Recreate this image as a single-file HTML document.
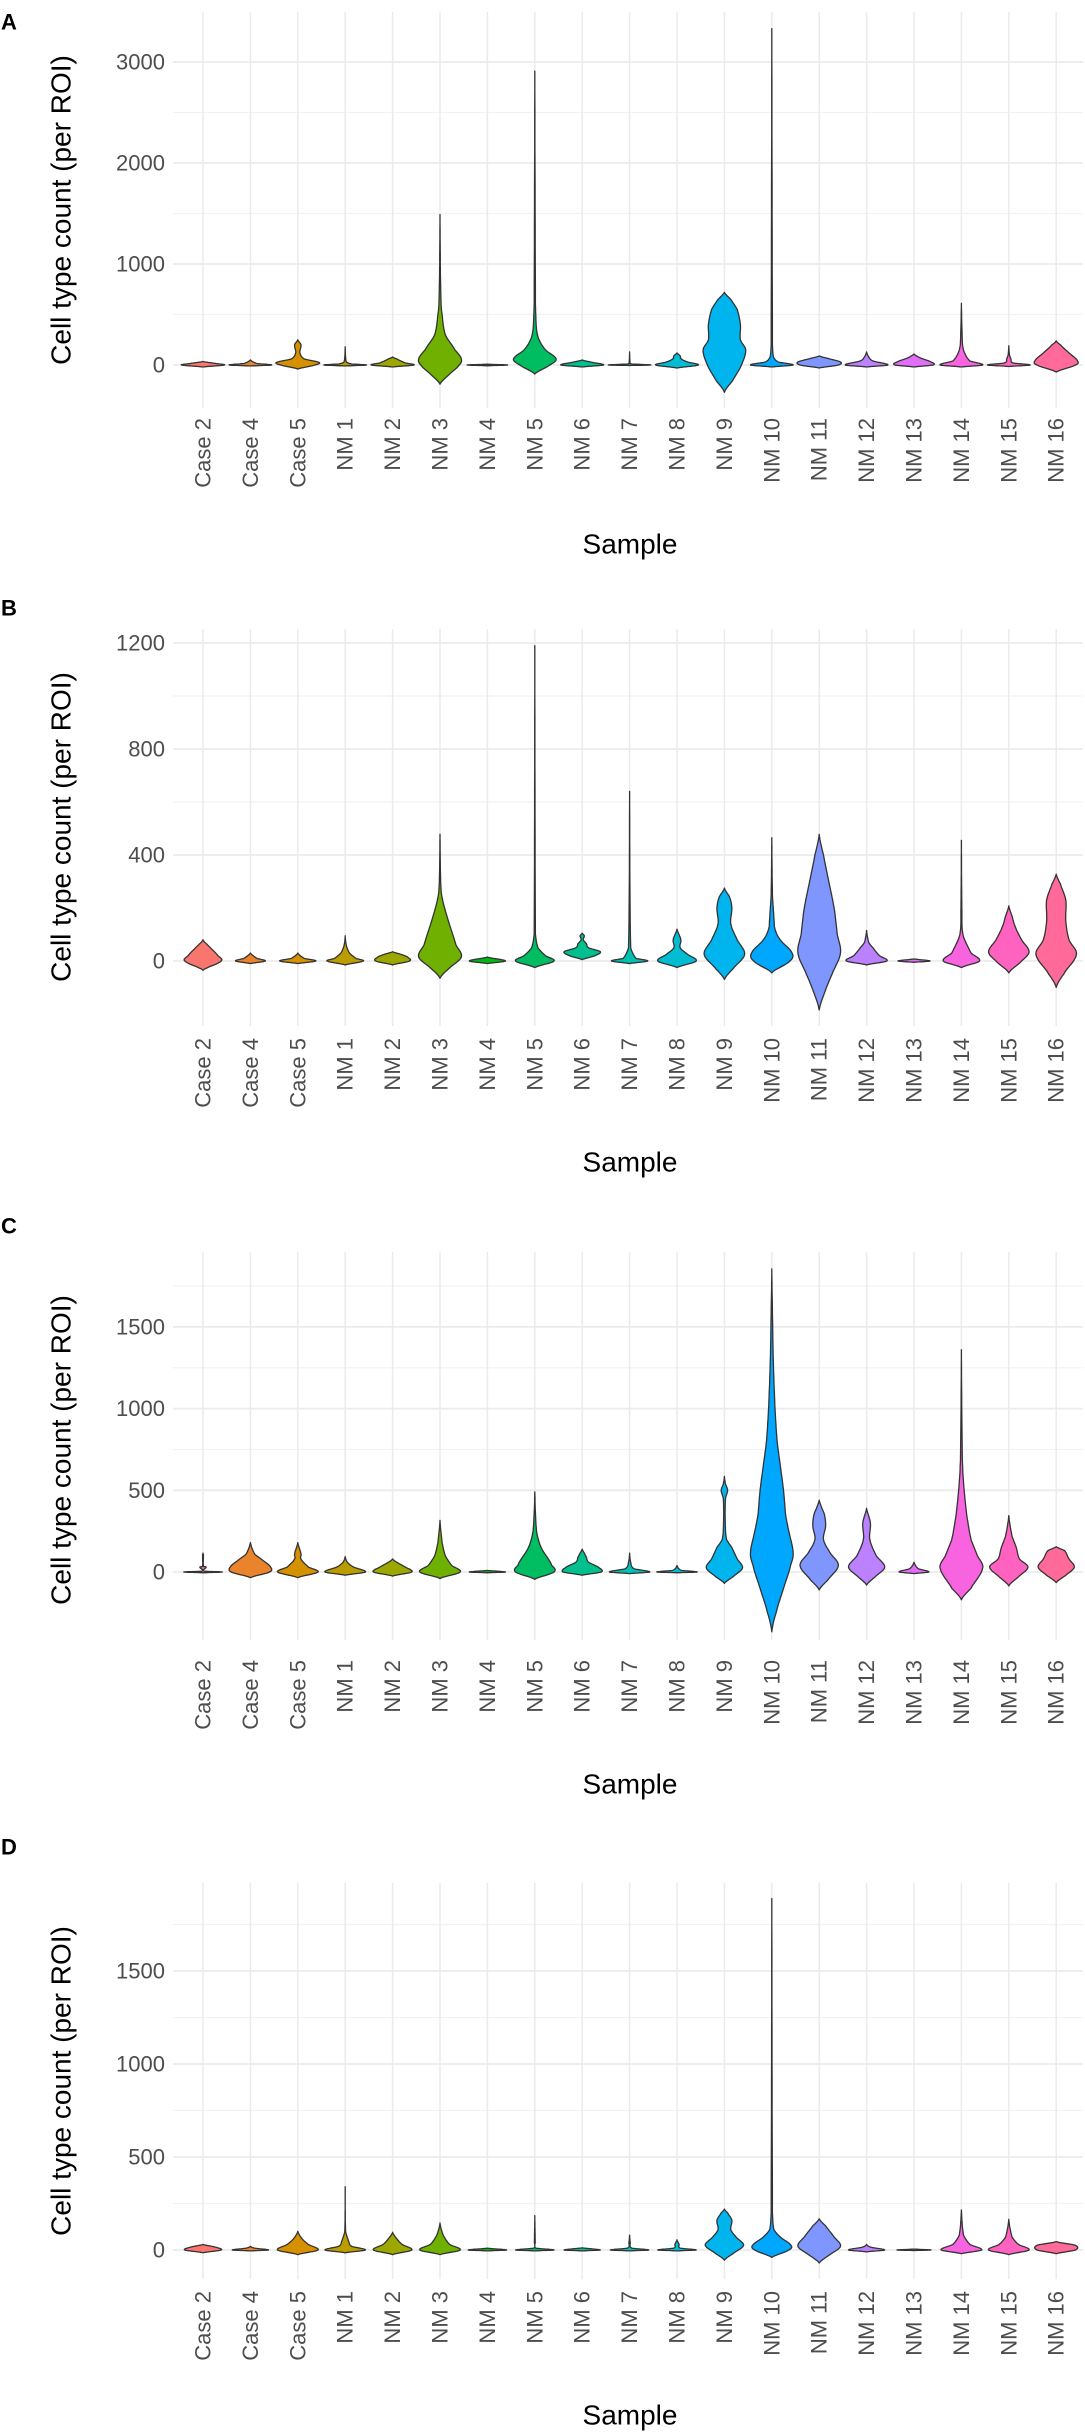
<!DOCTYPE html>
<html><head><meta charset="utf-8"><title>Cell type counts violin plots</title>
<style>
html,body{margin:0;padding:0;background:#fff;}
svg{display:block;font-family:"Liberation Sans",sans-serif;}
</style></head>
<body>
<svg id="fig" width="1085" height="2433" viewBox="0 0 1085 2433" xmlns="http://www.w3.org/2000/svg"></svg>
<script>
const categories = ["Case 2","Case 4","Case 5","NM 1","NM 2","NM 3","NM 4","NM 5","NM 6","NM 7","NM 8","NM 9","NM 10","NM 11","NM 12","NM 13","NM 14","NM 15","NM 16"];

const ticksA = [0,1000,2000,3000];
const ticksB = [0,400,800,1200];
const ticksC = [0,500,1000,1500];
const ticksD = [0,500,1000,1500];

// violin profiles: [value, relative half-width]
const violinsA = [
 [[-20,0],[0,1],[15,0.6],[35,0]],
 [[-10,0],[0,1],[15,0.3],[50,0]],
 [[-40,0],[0,0.8],[25,1],[60,0.3],[120,0.1],[200,0.15],[250,0]],
 [[-10,0],[0,1],[10,0.3],[30,0.05],[180,0]],
 [[-20,0],[0,1],[20,0.6],[60,0.2],[80,0]],
 [[-190,0],[-100,0.4],[0,0.9],[60,1],[150,0.7],[300,0.25],[500,0.1],[600,0.05],[900,0.02],[1490,0]],
 [[-8,0],[0,0.95],[8,0]],
 [[-90,0],[0,0.7],[60,1],[150,0.5],[250,0.2],[350,0.08],[600,0.03],[2910,0]],
 [[-20,0],[0,1],[25,0.5],[50,0]],
 [[-5,0],[0,1],[10,0.1],[30,0.02],[130,0]],
 [[-30,0],[0,1],[30,0.5],[60,0.2],[90,0.15],[120,0]],
 [[-270,0],[-150,0.4],[0,0.8],[150,1],[250,0.75],[400,0.75],[550,0.6],[650,0.3],[720,0]],
 [[-20,0],[0,1],[30,0.3],[80,0.08],[200,0.03],[3330,0]],
 [[-30,0],[0,0.9],[30,1],[60,0.5],[90,0]],
 [[-20,0],[0,1],[40,0.3],[80,0.1],[130,0]],
 [[-20,0],[0,0.9],[30,0.8],[70,0.3],[110,0]],
 [[-20,0],[0,1],[40,0.4],[120,0.15],[200,0.05],[610,0]],
 [[-15,0],[0,1],[20,0.2],[60,0.1],[100,0.03],[190,0]],
 [[-70,0],[0,0.9],[40,1],[120,0.6],[200,0.2],[240,0]]
];
const violinsB = [
 [[-35,0],[0,0.85],[20,0.7],[50,0.35],[80,0]],
 [[-10,0],[0,0.7],[10,0.3],[30,0]],
 [[-10,0],[0,0.85],[10,0.3],[30,0]],
 [[-15,0],[0,0.85],[10,0.5],[30,0.2],[60,0.05],[95,0]],
 [[-15,0],[0,0.8],[15,0.7],[25,0.4],[35,0]],
 [[-65,0],[-30,0.4],[15,1],[60,0.75],[150,0.4],[240,0.1],[300,0.03],[478,0]],
 [[-10,0],[0,0.85],[15,0]],
 [[-25,0],[0,0.9],[20,0.5],[50,0.15],[100,0.03],[1190,0]],
 [[5,0],[20,0.6],[35,0.85],[50,0.3],[65,0.2],[80,0.05],[95,0.1],[105,0]],
 [[-10,0],[0,0.85],[10,0.3],[50,0.05],[640,0]],
 [[-25,0],[0,0.9],[25,0.5],[50,0.15],[80,0.18],[120,0]],
 [[-70,0],[-30,0.4],[25,0.95],[80,0.6],[140,0.3],[200,0.35],[240,0.25],[275,0]],
 [[-45,0],[0,0.85],[30,0.95],[80,0.4],[120,0.15],[160,0.1],[250,0.03],[465,0]],
 [[-185,0],[-120,0.25],[-50,0.6],[30,1],[100,0.85],[200,0.7],[300,0.45],[400,0.2],[478,0]],
 [[-15,0],[0,0.95],[20,0.6],[50,0.3],[70,0.1],[115,0]],
 [[-5,0],[0,0.75],[8,0]],
 [[-25,0],[0,0.85],[30,0.45],[100,0.07],[200,0.02],[455,0]],
 [[-45,0],[0,0.6],[35,0.95],[80,0.6],[130,0.3],[170,0.15],[208,0]],
 [[-100,0],[-50,0.35],[25,0.95],[80,0.6],[150,0.45],[230,0.45],[290,0.2],[328,0]]
];
const violinsC = [
 [[-5,0],[0,0.9],[5,0.05],[30,0.15],[35,0.02],[105,0.02],[115,0]],
 [[-35,0],[0,0.9],[30,0.95],[70,0.6],[110,0.2],[180,0]],
 [[-35,0],[0,0.95],[30,0.5],[80,0.15],[110,0.15],[180,0]],
 [[-20,0],[0,0.95],[30,0.4],[60,0.1],[95,0]],
 [[-25,0],[0,0.9],[30,0.6],[60,0.2],[80,0]],
 [[-40,0],[0,0.95],[40,0.55],[100,0.25],[180,0.1],[316,0]],
 [[-5,0],[0,0.85],[10,0]],
 [[-45,0],[0,0.9],[40,0.8],[150,0.3],[250,0.08],[490,0]],
 [[-20,0],[0,0.9],[30,0.75],[60,0.3],[90,0.2],[110,0.12],[140,0]],
 [[-10,0],[0,0.95],[20,0.2],[60,0.05],[115,0]],
 [[-5,0],[0,0.95],[10,0.2],[40,0]],
 [[-70,0],[-30,0.4],[25,0.85],[80,0.6],[150,0.35],[200,0.1],[300,0.04],[450,0.05],[500,0.15],[540,0.05],[585,0]],
 [[-366,0],[-250,0.2],[-100,0.55],[50,0.9],[120,1],[250,0.8],[350,0.65],[500,0.55],[650,0.4],[800,0.25],[1000,0.15],[1300,0.07],[1500,0.04],[1855,0]],
 [[-110,0],[-50,0.4],[40,0.9],[120,0.5],[200,0.2],[280,0.3],[350,0.25],[400,0.1],[440,0]],
 [[-80,0],[-30,0.4],[30,0.85],[100,0.45],[200,0.15],[300,0.18],[390,0]],
 [[-10,0],[0,0.7],[20,0.2],[60,0]],
 [[-170,0],[-100,0.45],[25,1],[100,0.75],[200,0.45],[350,0.25],[550,0.1],[700,0.04],[1360,0]],
 [[-85,0],[-30,0.45],[30,0.9],[80,0.5],[150,0.35],[220,0.15],[345,0]],
 [[-65,0],[-20,0.45],[30,0.85],[80,0.6],[130,0.4],[155,0]]
];
const violinsD = [
 [[-15,0],[0,0.85],[15,0.6],[30,0]],
 [[-5,0],[0,0.85],[10,0.2],[20,0]],
 [[-25,0],[0,0.95],[30,0.5],[60,0.2],[100,0]],
 [[-15,0],[0,0.95],[20,0.3],[50,0.15],[100,0.02],[340,0]],
 [[-25,0],[0,0.9],[30,0.45],[60,0.2],[95,0]],
 [[-25,0],[0,0.95],[30,0.45],[80,0.15],[145,0]],
 [[-5,0],[0,0.9],[10,0]],
 [[-5,0],[0,0.9],[10,0.05],[40,0.02],[185,0]],
 [[-5,0],[0,0.85],[12,0]],
 [[-5,0],[0,0.9],[10,0.1],[40,0.03],[80,0]],
 [[-5,0],[0,0.9],[10,0.15],[30,0.1],[55,0]],
 [[-55,0],[-20,0.4],[25,0.9],[70,0.55],[110,0.3],[160,0.35],[200,0.15],[220,0]],
 [[-40,0],[0,0.8],[25,0.9],[70,0.4],[110,0.1],[200,0.03],[1890,0]],
 [[-70,0],[-25,0.5],[20,1],[70,0.7],[130,0.3],[168,0]],
 [[-10,0],[0,0.85],[15,0.2],[30,0]],
 [[-3,0],[0,0.8],[5,0]],
 [[-20,0],[0,0.95],[30,0.4],[80,0.1],[215,0]],
 [[-25,0],[0,0.95],[30,0.45],[70,0.15],[165,0]],
 [[-20,0],[0,0.9],[25,0.9],[45,0]]
];

const NS = "http://www.w3.org/2000/svg";
const svg = document.getElementById("fig");

function hcl(h, c, l) {
  const hr = h * Math.PI / 180;
  const U = c * Math.cos(hr), V = c * Math.sin(hr);
  const Xn = 0.95047, Yn = 1.0, Zn = 1.08883;
  const un = 4 * Xn / (Xn + 15 * Yn + 3 * Zn), vn = 9 * Yn / (Xn + 15 * Yn + 3 * Zn);
  const Y = l > 8 ? Yn * Math.pow((l + 16) / 116, 3) : Yn * l / 903.3;
  const u = U / (13 * l) + un, v = V / (13 * l) + vn;
  const X = Y * 9 * u / (4 * v), Z = Y * (12 - 3 * u - 20 * v) / (4 * v);
  let r = 3.2406 * X - 1.5372 * Y - 0.4986 * Z;
  let g = -0.9689 * X + 1.8758 * Y + 0.0415 * Z;
  let b = 0.0557 * X - 0.2040 * Y + 1.0570 * Z;
  const gam = t => { t = t <= 0.0031308 ? 12.92 * t : 1.055 * Math.pow(t, 1 / 2.4) - 0.055; return Math.round(Math.max(0, Math.min(1, t)) * 255); };
  return "rgb(" + gam(r) + "," + gam(g) + "," + gam(b) + ")";
}
const n = categories.length;
const colors = categories.map((_, i) => hcl(15 + 360 * i / n, 100, 65));

function el(tag, attrs, parent) {
  const e = document.createElementNS(NS, tag);
  for (const k in attrs) e.setAttribute(k, attrs[k]);
  (parent || svg).appendChild(e);
  return e;
}

const xLeft = 173, xRight = 1083;
function xPos(i) { return 203 + i * 47.4; }
const maxHalf = 21.3;

// Catmull-Rom sampled half-profile: returns dense [halfwidth, y] points
function smoothSide(knots) {
  const out = [];
  const m = knots.length;
  for (let j = 0; j < m - 1; j++) {
    const p0 = knots[Math.max(0, j - 1)], p1 = knots[j], p2 = knots[j + 1], p3 = knots[Math.min(m - 1, j + 2)];
    const steps = 12;
    for (let s = 0; s < steps; s++) {
      const t = s / steps, t2 = t * t, t3 = t2 * t;
      const cr = (a, b, c, d) => 0.5 * ((2 * b) + (-a + c) * t + (2 * a - 5 * b + 4 * c - d) * t2 + (-a + 3 * b - 3 * c + d) * t3);
      const w = Math.max(0, cr(p0[0], p1[0], p2[0], p3[0]));
      const y = p1[1] + (p2[1] - p1[1]) * t;
      out.push([w, y]);
    }
  }
  out.push(knots[m - 1]);
  return out;
}

const panels = [
  {letter:"A", letterY:22, zero:365, k:0.101, top:12, bottom:408, ticks:ticksA, minorStep:500, labTop:418, sampleY:544, titleY:210, data:violinsA},
  {letter:"B", letterY:608, zero:961, k:0.265, top:629, bottom:1026, ticks:ticksB, minorStep:200, labTop:1038, sampleY:1162, titleY:827, data:violinsB},
  {letter:"C", letterY:1226, zero:1572, k:0.1634, top:1252, bottom:1640, ticks:ticksC, minorStep:250, labTop:1660, sampleY:1784, titleY:1450, data:violinsC},
  {letter:"D", letterY:1847, zero:2250, k:0.186, top:1883, bottom:2279, ticks:ticksD, minorStep:250, labTop:2291, sampleY:2415, titleY:2081, data:violinsD}
];

panels.forEach(p => {
  const id = p.letter.toLowerCase();
  const g = el("g", {});
  
  
  const yOf = v => p.zero - v * p.k;
  const majorStep = p.ticks[1] - p.ticks[0];

  const vMin = (p.zero - p.bottom) / -p.k, vMax = (p.zero - p.top) / p.k;
  for (let v = Math.ceil(vMin / p.minorStep) * p.minorStep; v <= vMax; v += p.minorStep) {
    if (Math.abs(v % majorStep) < 1e-6) continue;
    const ln = el("line", {x1:xLeft, x2:xRight, y1:yOf(v), y2:yOf(v), stroke:"#f2f2f2", "stroke-width":1.2}, g);
    
    
  }
  categories.forEach((c, i) => {
    const ln = el("line", {x1:xPos(i), x2:xPos(i), y1:p.top, y2:p.bottom, stroke:"#ebebeb", "stroke-width":1.5}, g);
    
    
  });
  p.ticks.forEach(t => {
    const ln = el("line", {x1:xLeft, x2:xRight, y1:yOf(t), y2:yOf(t), stroke:"#ebebeb", "stroke-width":1.8}, g);
    
    
    const tx = el("text", {x:165, y:yOf(t), "text-anchor":"end", "dominant-baseline":"central", "font-size":22, fill:"#4d4d4d"}, g);
    tx.textContent = t;
    
    
  });
  p.data.forEach((prof, i) => {
    const cx = xPos(i);
    const knots = prof.map(([v, w]) => [w * maxHalf, yOf(v)]);
    const side = smoothSide(knots);
    const right = side.map(([w, y]) => [cx + w, y]);
    const left = side.slice().reverse().map(([w, y]) => [cx - w, y]);
    const pts = right.concat(left);
    const d = "M" + pts.map(q => q[0].toFixed(1) + "," + q[1].toFixed(1)).join(" L") + "Z";
    const path = el("path", {d:d, fill:colors[i], stroke:"#333", "stroke-width":1.3, "stroke-linejoin":"round"}, g);
    
    
  });
  categories.forEach((c, i) => {
    const tx = el("text", {x:0, y:0, transform:"translate(" + xPos(i) + "," + p.labTop + ") rotate(-90)", "text-anchor":"end", "dominant-baseline":"central", "font-size":22, fill:"#4d4d4d"}, g);
    tx.textContent = c;
    
    
  });
  const st = el("text", {x:630, y:p.sampleY, "text-anchor":"middle", "dominant-baseline":"central", "font-size":28, fill:"#000"}, g);
  st.textContent = "Sample";
  
  
  const yt = el("text", {x:0, y:0, transform:"translate(61," + p.titleY + ") rotate(-90)", "text-anchor":"middle", "dominant-baseline":"central", "font-size":28, fill:"#000"}, g);
  yt.textContent = "Cell type count (per ROI)";
  
  
  const lt = el("text", {x:1, y:p.letterY, "dominant-baseline":"central", "font-size":22, "font-weight":"bold", fill:"#000"}, g);
  lt.textContent = p.letter;
  
  
});
</script>
</body></html>
